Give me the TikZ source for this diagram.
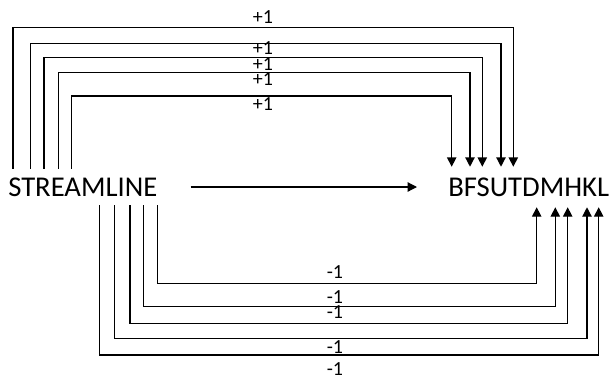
\documentclass[tikz,border=0pt]{standalone}
\usepackage{fontspec}
\setmainfont{Carlito}
\usepackage{tikz}
\usetikzlibrary{arrows.meta, calc}

\begin{document}
\begin{tikzpicture}[x=0.75pt, y=-0.75pt, every node/.style={font=\fontsize{15}{18}\selectfont, inner sep=0pt},
    wire/.style={line width=0.9pt, -{Triangle[length=7pt, width=7pt]}},
    word/.style={anchor=west, minimum height=27pt, font=\fontsize{21.5}{26}\selectfont}]
  \useasboundingbox (0,0) rectangle (611,379);

  \node[word] (src) at (8,187) {STREAMLINE};
  \node[word, minimum height=30pt] (dst) at (448,187) {BFSUTDMHKL};
  \draw[wire, shorten <=24.75pt, shorten >=23.25pt] (src) -- (dst);

  % +1 links
  \foreach \a/\h/\b/\l [count=\i] in {5/27.3/65.3/17, 22.7/43.3/53/48, 36/57.7/34.3/64, 50.3/72.7/22/79, 63.7/96/3.7/104} {
    \coordinate (up\i) at ($(src.north west)+(\a,0)$);
    \coordinate (upend\i) at ($(dst.north west)+(\b,0)$);
    \coordinate (uplevel\i) at (0,\h);
    \draw[wire] (up\i) |- (upend\i |- uplevel\i) -- (upend\i);
    \node (plus\i) at (263,\l) {+1};
  }

  % -1 links
  \foreach \a/\h/\b/\l [count=\i] in {149.3/283.3/88.7/271.7, 135.3/306.7/107.3/296.7, 122/323.3/119.7/311.7, 106.3/338.3/139/346.7, 91.3/355/150.7/369} {
    \coordinate (dn\i) at ($(src.south west)+(\a,0)$);
    \coordinate (dnend\i) at ($(dst.south west)+(\b,0)$);
    \coordinate (dnlevel\i) at (0,\h);
    \draw[wire] (dn\i) |- (dnend\i |- dnlevel\i) -- (dnend\i);
    \node (minus\i) at (335,\l) {-1};
  }
\end{tikzpicture}
\end{document}
